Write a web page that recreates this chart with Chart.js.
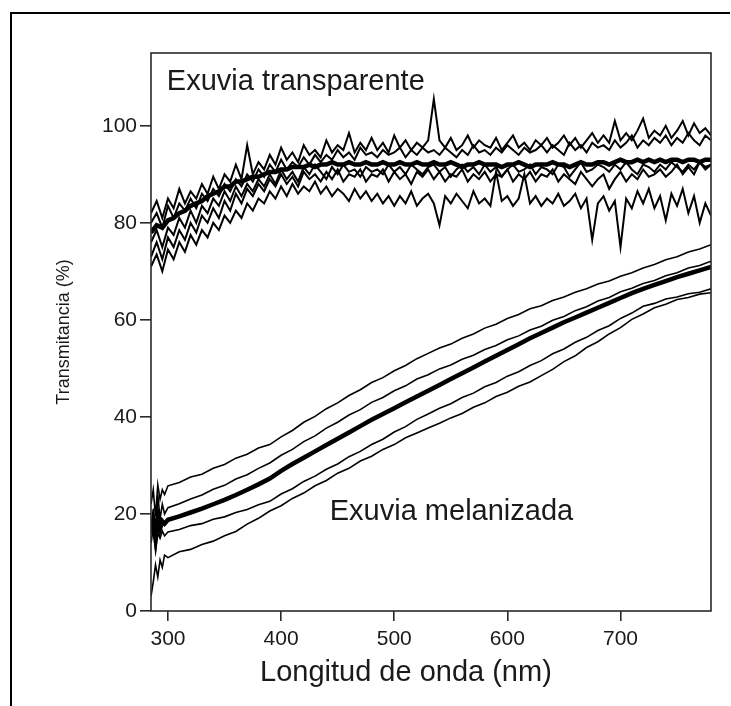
<!DOCTYPE html>
<html lang="es">
<head>
<meta charset="utf-8">
<title>Transmitancia de exuvias</title>
<script src="https://cdn.jsdelivr.net/npm/chart.js@4.4.1/dist/chart.umd.min.js"></script>
<style>
  html, body { margin: 0; padding: 0; background: #fff; }
  #page { position: relative; width: 731px; height: 706px; overflow: hidden; }
  #frame {
    position: absolute; left: 10px; top: 12px; right: 1px; bottom: -4px;
    border-top: 2px solid #000; border-left: 2px solid #000;
  }
  #my-chart { position: absolute; left: 0; top: 0; }
</style>
</head>
<body>
<div id="page">
  <div id="frame"></div>
  <canvas id="my-chart" width="731" height="706"></canvas>
</div>
<script>
'use strict';

// Global Variables

// wavelengths (nm) for the noisy transparent exuviae
let wlTrans = [
  285, 290, 295, 300, 305, 310, 315, 320, 325, 330,
  335, 340, 345, 350, 355, 360, 365, 370, 375, 380,
  385, 390, 395, 400, 405, 410, 415, 420, 425, 430,
  435, 440, 445, 450, 455, 460, 465, 470, 475, 480,
  485, 490, 495, 500, 505, 510, 515, 520, 525, 530,
  535, 540, 545, 550, 555, 560, 565, 570, 575, 580,
  585, 590, 595, 600, 605, 610, 615, 620, 625, 630,
  635, 640, 645, 650, 655, 660, 665, 670, 675, 680,
  685, 690, 695, 700, 705, 710, 715, 720, 725, 730,
  735, 740, 745, 750, 755, 760, 765, 770, 775, 780
];

// wavelengths (nm) for the melanized exuviae
let wlMel = [
  285, 287, 289, 291, 293, 295, 297, 300,
  310, 320, 330, 340, 350, 360, 370, 380,
  390, 400, 410, 420, 430, 440, 450, 460, 470, 480,
  490, 500, 510, 520, 530, 540, 550, 560, 570, 580,
  590, 600, 610, 620, 630, 640, 650, 660, 670, 680,
  690, 700, 710, 720, 730, 740, 750, 760, 770, 780
];

// Exuvia transparente (%)
let transA = [
  82, 84.5, 81, 85, 83, 87, 84, 86.5, 85, 88,
  86, 89.5, 87, 90, 88.5, 92, 89, 96, 90, 92.5,
  91, 94, 92, 95.5, 93, 94.5, 92.5, 96, 94, 95,
  93.5, 97, 94.5, 96, 95, 98.5, 94.5, 96.5, 95, 97.5,
  95, 96.5, 94.5, 98, 95.5, 97, 95, 96.5, 95.5, 97,
  105.5, 97, 95.5, 97.5, 95, 96, 98, 95.5, 97, 96,
  95.5, 97.5, 95, 96.5, 98, 95.5, 96.5, 95, 97, 96,
  97.5, 95.5, 96.5, 98, 96, 97.5, 95.5, 97, 98.5, 96.5,
  98, 96.5, 101, 97, 98.5, 97, 99, 101.5, 97.5, 99,
  98, 100, 97.5, 99, 101, 98, 100.5, 98.5, 99.5, 98
];
let transB = [
  80, 82, 79, 83.5, 81, 84, 82.5, 85, 83, 86,
  84.5, 87, 85.5, 88, 86.5, 89, 87.5, 90, 88.5, 91,
  89.5, 92, 90.5, 93, 91, 92.5, 91.5, 93.5, 92, 94,
  92.5, 94, 93, 95, 93.5, 94.5, 93, 95.5, 94, 94.5,
  93.5, 95, 94, 94.5, 95.5, 93.5, 95, 94, 95.5, 94.5,
  95, 94, 95.5, 94.5, 93.5, 95, 94, 96, 94.5, 95,
  94, 95.5, 94.5, 96, 95, 94, 95.5, 94.5, 95, 96,
  94.5, 96, 95, 94, 96.5, 95, 96, 94.5, 96.5, 95.5,
  96, 95, 97, 95.5, 96.5, 98, 95.5, 97, 96, 97.5,
  96.5, 98, 96, 97.5, 96.5, 98.5, 97, 96, 98, 97
];
let transMean = [
  78, 79.5, 79, 80.5, 81, 82, 82.5, 83.5, 84, 84.5,
  85.5, 86, 86.5, 87.5, 87.5, 88.5, 88.5, 89, 89.5, 89.5,
  90, 90.5, 90.5, 91, 91, 91.5, 91.5, 91.5, 92, 91.5,
  92, 92, 92.5, 92, 92, 92.5, 92, 92, 92.5, 92,
  92, 92.5, 92, 92, 92.5, 92, 92, 92.5, 92, 92,
  92.5, 92, 92, 92.5, 92, 91.5, 92, 92, 92.5, 92,
  92, 92, 91.5, 92, 92, 92.5, 92, 91.5, 92, 92,
  92, 92.5, 92, 92, 91.5, 92, 92.5, 92, 92, 92.5,
  92.5, 92, 92.5, 93, 92.5, 92.5, 93, 92.5, 93, 92.5,
  93, 92.5, 93, 93, 92.5, 93, 93, 92.5, 93, 93
];
let transC = [
  76, 78.5, 75, 79, 77.5, 81, 79, 82.5, 80, 83.5,
  82, 85, 83.5, 86.5, 84.5, 87.5, 85.5, 88, 86.5, 89,
  87.5, 90, 88, 91, 89, 90.5, 88.5, 91.5, 90, 92,
  90.5, 89, 91.5, 90, 92, 90.5, 91, 89.5, 91.5, 90.5,
  91, 90, 92, 90.5, 91.5, 90, 92, 91, 90, 91.5,
  92, 90.5, 91.5, 89.5, 91, 92, 90.5, 91.5, 90, 92,
  90.5, 91.5, 89.5, 91, 92, 90.5, 91, 92, 90, 91.5,
  91, 90, 92, 91.5, 89.5, 91, 92.5, 90.5, 91, 92,
  91.5, 90.5, 92, 91, 92.5, 91, 90, 92, 91.5, 90.5,
  92, 91, 92.5, 91.5, 90.5, 92, 91, 92.5, 91.5, 92
];
let transD = [
  73, 76, 72.5, 77, 75, 78.5, 76.5, 80, 78, 81.5,
  80, 83, 81, 84.5, 82.5, 86, 84, 87, 85.5, 88,
  86.5, 89, 87.5, 90, 88, 89.5, 87.5, 90.5, 89, 90,
  88.5, 90.5, 89, 91, 88.5, 90, 89.5, 91, 88.5, 90,
  89.5, 91, 88.5, 90.5, 89, 90, 88, 90.5, 89.5, 91,
  89, 90.5, 88.5, 90, 89.5, 91, 88.5, 90, 89, 90.5,
  88.5, 90, 89.5, 91, 88.5, 90, 89, 90.5, 88.5, 90,
  89.5, 91, 88.5, 90, 89, 88, 90.5, 89, 87.5, 89,
  90, 87, 89, 90.5, 88.5, 90, 89, 91, 89.5, 90,
  91, 89.5, 90.5, 92, 90, 91.5, 90, 92.5, 91, 92
];
let transE = [
  71, 73.5, 70, 74.5, 72.5, 76, 74, 77.5, 75.5, 78.5,
  77, 80, 78.5, 81.5, 80, 82.5, 81, 84, 82.5, 85,
  84, 86.5, 85, 87.5, 85.5, 88, 86, 87.5, 86.5, 88.5,
  86, 87.5, 85.5, 87, 86, 84.5, 87, 85, 86.5, 84.5,
  86, 84, 85.5, 83.5, 85.5, 84, 86.5, 83.5, 85, 86,
  84, 79.5, 85.5, 84, 86, 84.5, 83, 86.5, 84, 85,
  83.5, 90.5, 84.5, 85.5, 83.5, 85, 90, 84, 85.5, 83.5,
  85, 84, 86, 83.5, 84.5, 86, 83, 85, 76.5, 84,
  85.5, 82.5, 84.5, 75, 85, 83, 86.5, 84, 87, 83,
  85.5, 80.5, 86, 83.5, 87, 82, 85.5, 80, 84, 81.5
];

// Exuvia melanizada (%)
let melA = [
  22, 25, 19.5, 26, 23, 25, 24, 25.8,
  26.5, 27.6, 28.2, 29.4, 30.2, 31.5, 32.3, 33.6,
  34.3, 35.9, 37.2, 38.9, 40.1, 41.7, 42.9, 44.4, 45.6, 47.1,
  48.1, 49.5, 50.6, 52, 53.1, 54.2, 55, 56.2, 57.1, 58.3,
  59.1, 60.3, 61.1, 62.3, 62.9, 64, 64.7, 65.7, 66.4, 67.4,
  68, 69, 69.7, 70.7, 71.4, 72.4, 73, 74, 74.6, 75.5
];
let melB = [
  17, 21, 15, 24, 19, 22, 20, 21.3,
  22.1, 23.1, 23.9, 25.1, 25.9, 27.2, 28.1, 29.4,
  30.5, 32.1, 33.3, 34.9, 36.1, 37.7, 38.9, 40.4, 41.5, 43,
  44, 45.4, 46.4, 47.8, 48.7, 49.9, 50.7, 51.9, 52.7, 53.9,
  54.7, 55.9, 56.7, 57.9, 58.7, 59.9, 60.7, 61.9, 62.7, 63.9,
  64.6, 65.8, 66.5, 67.5, 68.1, 69.1, 69.7, 70.7, 71.2, 72.1
];
let melMean = [
  16, 18.5, 15, 19.5, 17, 18.5, 18, 18.8,
  19.5, 20.3, 21.1, 22, 22.9, 23.9, 25, 26.1,
  27.3, 28.9, 30.3, 31.6, 32.9, 34.2, 35.5, 36.8, 38.1, 39.4,
  40.6, 41.8, 43, 44.2, 45.4, 46.6, 47.8, 49, 50.2, 51.4,
  52.6, 53.8, 55, 56.2, 57.3, 58.4, 59.5, 60.5, 61.5, 62.5,
  63.5, 64.5, 65.5, 66.4, 67.2, 68, 68.8, 69.5, 70.2, 70.9
];
let melC = [
  14, 17, 12.5, 16, 15, 16.5, 15.5, 16.3,
  16.8, 17.6, 18, 18.9, 19.4, 20.3, 20.9, 21.9,
  22.6, 24.1, 25.2, 26.7, 27.8, 29.2, 30.3, 31.8, 32.9, 34.3,
  35.4, 36.9, 38, 39.5, 40.6, 41.8, 42.7, 44, 44.9, 46.2,
  47.1, 48.4, 49.3, 50.6, 51.6, 53, 54, 55.4, 56.4, 57.8,
  58.8, 60.3, 61.4, 62.8, 63.4, 64.3, 64.7, 65.4, 65.7, 66.4
];
let melD = [
  3, 6, 9.5, 7, 10.5, 9, 11.5, 11,
  12.2, 12.7, 13.7, 14.4, 15.5, 16.4, 17.9, 19.1,
  20.6, 21.7, 23.2, 24.3, 25.8, 26.9, 28.4, 29.4, 30.9, 31.9,
  33.3, 34.3, 35.7, 36.7, 37.7, 38.7, 39.8, 40.7, 42, 42.9,
  44.2, 45.1, 46.3, 47.2, 48.5, 49.8, 51.4, 52.6, 54.3, 55.5,
  57.1, 58.4, 60.1, 61.2, 62.5, 63.2, 64.2, 64.6, 65.3, 65.6
];

// axis ticks and texts
let xTicks = [300, 400, 500, 600, 700];
let yTicks = [0, 20, 40, 60, 80, 100];
let groupLabels = ['Exuvia transparente', 'Exuvia melanizada'];
let xTitle = 'Longitud de onda (nm)';
let yTitle = 'Transmitancia (%)';

// Helper Functions

let fontFamily = '"Liberation Sans", Arial, Helvetica, sans-serif';
let inkColor = '#1a1a1a';

function toPoints(xs, ys) {
  let pts = [];
  for (let i = 0; i < xs.length; i++) {
    pts.push({ x: xs[i], y: ys[i] });
  }
  return pts;
}

function makeSeries(name, xs, ys, width) {
  return {
    label: name,
    data: toPoints(xs, ys),
    borderColor: '#000',
    borderWidth: width,
    pointRadius: 0,
    tension: 0,
    fill: false
  };
}

function keepTicks(list) {
  return function (scale) {
    scale.ticks = list.map(v => ({ value: v }));
  };
}

// Plugin for the frame and free texts

let figureText = {
  id: 'figureText',
  afterDraw(chart) {
    let ctx = chart.ctx;
    let area = chart.chartArea;
    let sx = chart.scales.x;
    let sy = chart.scales.y;

    ctx.save();
    // plot box
    ctx.strokeStyle = '#2a2a2a';
    ctx.lineWidth = 1.6;
    ctx.strokeRect(area.left, area.top, area.right - area.left, area.bottom - area.top);

    ctx.fillStyle = inkColor;
    ctx.textAlign = 'left';
    ctx.textBaseline = 'alphabetic';
    ctx.font = '29px ' + fontFamily;
    ctx.fillText(groupLabels[0], sx.getPixelForValue(299), sy.getPixelForValue(107.4));
    ctx.fillText(groupLabels[1], sx.getPixelForValue(443), sy.getPixelForValue(18.8));

    // x title sits a bit left of the plot centre in the original
    ctx.fillText(xTitle, area.left + 109, area.bottom + 70);
    ctx.restore();
  }
};

// Chart Stuff

let canvasElem = document.getElementById('my-chart');

function renderChart() {
  let myObj = {
    type: 'line',
    data: {
      datasets: [
        makeSeries('T1', wlTrans, transA, 2),
        makeSeries('T2', wlTrans, transB, 2),
        makeSeries('T media', wlTrans, transMean, 4.5),
        makeSeries('T3', wlTrans, transC, 2),
        makeSeries('T4', wlTrans, transD, 2),
        makeSeries('T5', wlTrans, transE, 2),
        makeSeries('M1', wlMel, melA, 1.6),
        makeSeries('M2', wlMel, melB, 1.6),
        makeSeries('M media', wlMel, melMean, 4.5),
        makeSeries('M3', wlMel, melC, 1.6),
        makeSeries('M4', wlMel, melD, 1.6)
      ]
    },
    options: {
      responsive: false,
      animation: false,
      layout: { padding: { top: 53, right: 20, bottom: 0, left: 0 } },
      plugins: {
        legend: { display: false },
        tooltip: { enabled: false }
      },
      scales: {
        x: {
          type: 'linear',
          min: 285,
          max: 780,
          afterBuildTicks: keepTicks(xTicks),
          afterFit: function (scale) { scale.height = 95; },
          border: { display: false },
          grid: {
            drawOnChartArea: false,
            drawTicks: true,
            tickLength: 10,
            color: '#2a2a2a',
            lineWidth: 1.6
          },
          ticks: {
            padding: 6,
            color: inkColor,
            font: { family: fontFamily, size: 21 },
            maxRotation: 0
          }
        },
        y: {
          type: 'linear',
          min: 0,
          max: 115,
          afterBuildTicks: keepTicks(yTicks),
          afterFit: function (scale) { scale.width = 151; },
          border: { display: false },
          grid: {
            drawOnChartArea: false,
            drawTicks: true,
            tickLength: 11,
            color: '#2a2a2a',
            lineWidth: 1.6
          },
          ticks: {
            padding: 3,
            color: inkColor,
            font: { family: fontFamily, size: 21 }
          },
          title: {
            display: true,
            text: yTitle,
            color: inkColor,
            font: { family: fontFamily, size: 18 },
            padding: { top: 53, bottom: 0 }
          }
        }
      }
    },
    plugins: [figureText]
  };
  new Chart(canvasElem, myObj);
}

renderChart();
</script>
</body>
</html>
